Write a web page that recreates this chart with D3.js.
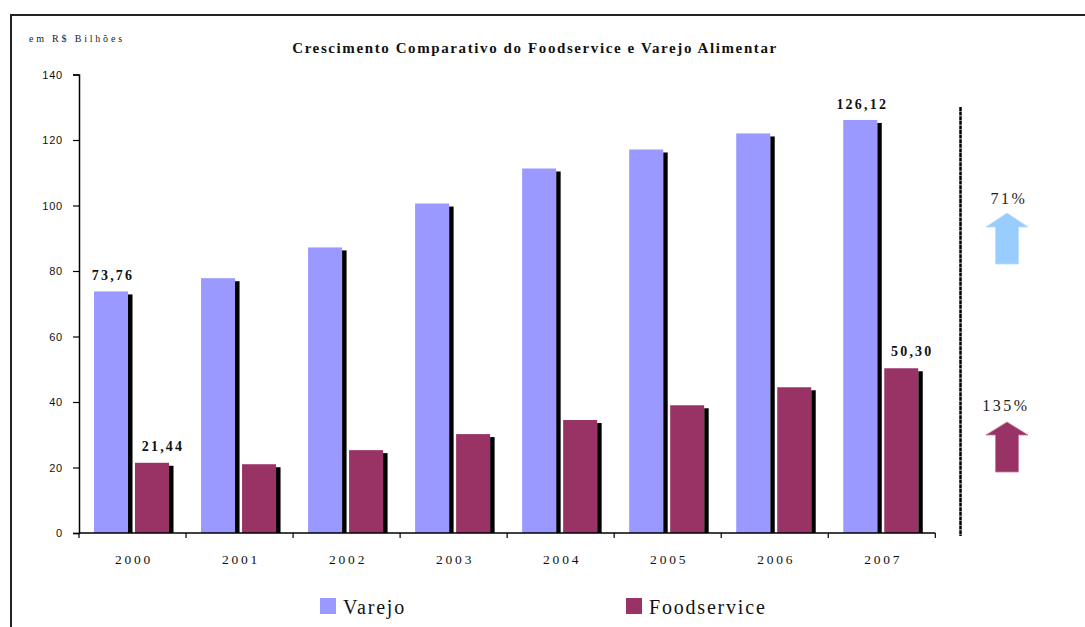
<!DOCTYPE html>
<html>
<head>
<meta charset="utf-8">
<script src="https://cdn.jsdelivr.net/npm/d3@7"></script>
<style>
  html, body { margin: 0; padding: 0; background: #ffffff; }
  svg { display: block; }
</style>
</head>
<body>
<svg id="chart" width="1085" height="627"></svg>
<script>
// ---- data ----
const years = ["2000", "2001", "2002", "2003", "2004", "2005", "2006", "2007"];
const seriesNames = ["Varejo", "Foodservice"];
const varejo = [73.76, 77.8, 87.2, 100.6, 111.3, 117.1, 122.0, 126.12];
const foodservice = [21.44, 21.0, 25.3, 30.2, 34.5, 39.0, 44.5, 50.30];
const yTicks = [0, 20, 40, 60, 80, 100, 120, 140];
const labeledYears = ["2000", "2007"];
const growthLabels = ["71%", "135%"];
const titleText = "Crescimento Comparativo do Foodservice e Varejo Alimentar";
const unitText = "em R$ Bilhões";

const colors = { Varejo: "#9999FF", Foodservice: "#993366" };
const arrowColors = ["#99CCFF", "#993366"];

const svg = d3.select("#chart");
const serif = "'Liberation Serif', 'Times New Roman', serif";
const sans = "'Liberation Sans', Arial, sans-serif";

// frame
svg.append("rect")
  .attr("x", 11).attr("y", 15).attr("width", 1090).attr("height", 640)
  .attr("fill", "none").attr("stroke", "#222").attr("stroke-width", 2);

// scales
const x = d3.scaleBand().domain(years).range([79, 935.3]).padding(0);
const xs = d3.scaleBand().domain(seriesNames).range([15, 90]).paddingInner(7 / 41).paddingOuter(0);
const y = d3.scaleLinear().domain([0, 140]).range([533, 74.5]);

const data = years.map((yr, i) => ({ year: yr, Varejo: varejo[i], Foodservice: foodservice[i] }));

// bars with shadow
const groups = svg.append("g").selectAll("g")
  .data(data).join("g")
  .attr("transform", d => `translate(${x(d.year)},0)`);

seriesNames.forEach(s => {
  groups.append("rect")
    .attr("x", xs(s) + xs.bandwidth())
    .attr("y", d => y(d[s]) + 3)
    .attr("width", 4.5)
    .attr("height", d => y(0) - y(d[s]) - 3)
    .attr("fill", "#000");
  groups.append("rect")
    .attr("x", xs(s))
    .attr("y", d => y(d[s]))
    .attr("width", xs.bandwidth())
    .attr("height", d => y(0) - y(d[s]))
    .attr("fill", colors[s]);
});

// value labels
const fmt = v => d3.format(".2f")(v).replace(".", ",");
seriesNames.forEach(s => {
  const off = s === "Varejo" ? 2 : 11;
  const gap = s === "Varejo" ? 11 : 12;
  svg.append("g").selectAll("text")
    .data(data.filter(d => labeledYears.includes(d.year)))
    .join("text")
    .attr("x", d => x(d.year) + xs(s) + xs.bandwidth() / 2 + off)
    .attr("y", d => y(d[s]) - gap)
    .attr("text-anchor", "middle")
    .attr("font-family", serif)
    .attr("font-weight", "bold")
    .attr("font-size", 14)
    .attr("letter-spacing", 2.2)
    .attr("fill", "#111")
    .text(d => fmt(d[s]));
});

// y axis
const yAxis = d3.axisLeft(y).tickValues(yTicks).tickSize(6).tickPadding(10).tickSizeOuter(6);
const gy = svg.append("g").attr("transform", "translate(79,0)").call(yAxis);
gy.select(".domain").attr("stroke", "#000").attr("stroke-width", 1.5);
gy.selectAll(".tick line").attr("stroke", "#000").attr("stroke-width", 1.2);
gy.selectAll(".tick text")
  .attr("font-family", sans).attr("font-size", 11).attr("letter-spacing", 0.8)
  .attr("fill", "#111");

// x axis (category boundaries as ticks)
const gx = svg.append("g");
gx.append("line")
  .attr("x1", x.range()[0]).attr("x2", x.range()[1])
  .attr("y1", y(0)).attr("y2", y(0))
  .attr("stroke", "#000").attr("stroke-width", 1.5);
const bounds = years.map(d => x(d)).concat([x.range()[1]]);
gx.selectAll("line.tk").data(bounds).join("line")
  .attr("class", "tk")
  .attr("x1", d => d).attr("x2", d => d)
  .attr("y1", y(0)).attr("y2", y(0) + 5)
  .attr("stroke", "#000").attr("stroke-width", 1.2);
gx.selectAll("text").data(years).join("text")
  .attr("x", d => x(d) + x.bandwidth() / 2 + 1.5)
  .attr("y", 564)
  .attr("text-anchor", "middle")
  .attr("font-family", serif).attr("font-size", 13.5).attr("letter-spacing", 2.8)
  .attr("fill", "#111")
  .text(d => d);

// title + unit
svg.append("text")
  .attr("x", 535).attr("y", 53)
  .attr("text-anchor", "middle")
  .attr("font-family", serif).attr("font-weight", "bold").attr("font-size", 15)
  .attr("letter-spacing", 1.6)
  .attr("fill", "#111")
  .text(titleText);
svg.append("text")
  .attr("x", 29).attr("y", 42)
  .attr("font-family", serif).attr("font-size", 10).attr("letter-spacing", 2.8)
  .attr("fill", "#222")
  .text(unitText);

// divider
svg.append("line")
  .attr("x1", 960.5).attr("x2", 960.5).attr("y1", 107).attr("y2", 536)
  .attr("stroke", "#000").attr("stroke-width", 2.5).attr("stroke-dasharray", "4,0.6");

// growth arrows
const arrows = [
  { label: growthLabels[0], tip: 213, headBase: 227, bottom: 264, textY: 204, textX: 1009, color: arrowColors[0], stroke: "#b8dcff" },
  { label: growthLabels[1], tip: 422, headBase: 435, bottom: 472, textY: 411, textX: 1006, color: arrowColors[1], stroke: "#c77aa0" }
];
const cx = 1007;
arrows.forEach(a => {
  const pts = [
    [cx, a.tip], [cx + 21, a.headBase], [cx + 11.5, a.headBase], [cx + 11.5, a.bottom],
    [cx - 11.5, a.bottom], [cx - 11.5, a.headBase], [cx - 21, a.headBase]
  ];
  svg.append("path")
    .attr("d", d3.line()(pts) + "Z")
    .attr("fill", a.color).attr("stroke", a.stroke).attr("stroke-width", 0.8);
  svg.append("text")
    .attr("x", a.textX).attr("y", a.textY)
    .attr("text-anchor", "middle")
    .attr("font-family", serif).attr("font-size", 16).attr("letter-spacing", 2.5)
    .attr("fill", "#222")
    .text(a.label);
});

// legend
const legendPos = [{ name: "Varejo", x: 320 }, { name: "Foodservice", x: 626 }];
const lg = svg.append("g").selectAll("g").data(legendPos).join("g")
  .attr("transform", d => `translate(${d.x},598)`);
lg.append("rect").attr("width", 16).attr("height", 16).attr("fill", d => colors[d.name]);
lg.append("text")
  .attr("x", 23).attr("y", 16)
  .attr("font-family", serif).attr("font-size", 20).attr("letter-spacing", 1.8)
  .attr("fill", "#111")
  .text(d => d.name);
</script>
</body>
</html>
